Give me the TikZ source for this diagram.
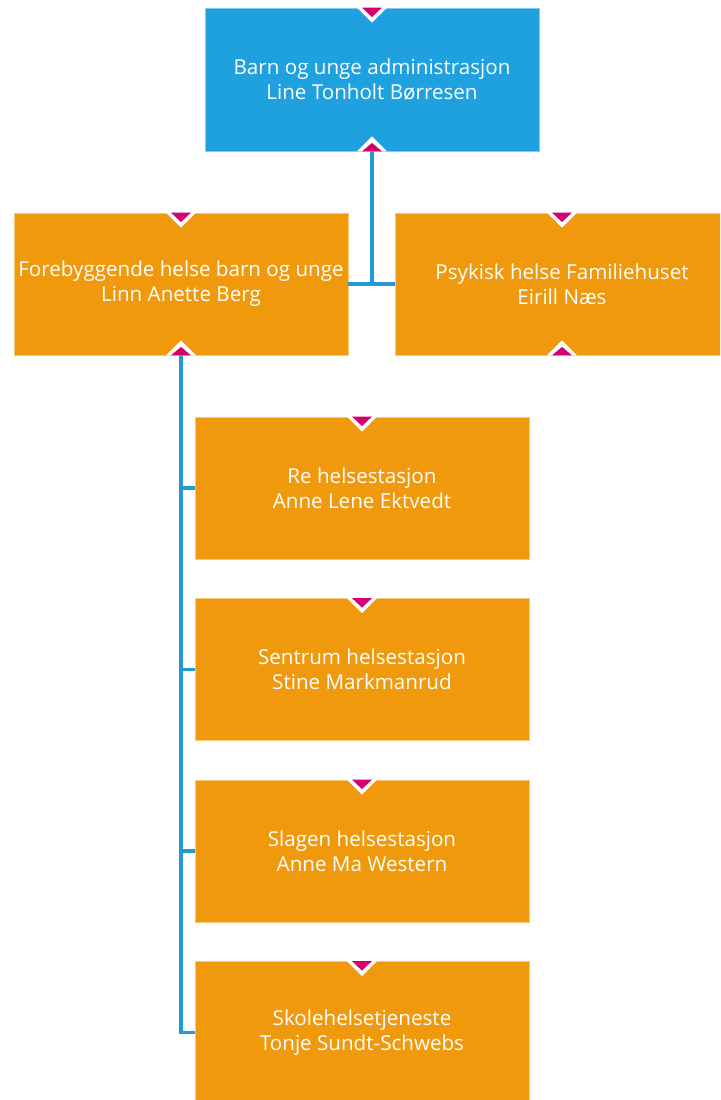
\documentclass[tikz,border=0pt]{standalone}
\usepackage{fontspec}
\setmainfont{Open Sans}
\definecolor{boxblue}{HTML}{1FA1E0}
\definecolor{boxorange}{HTML}{F0990D}
\definecolor{linkblue}{HTML}{1F9AD6}
\definecolor{notchmag}{HTML}{D5006D}
\tikzset{
  unit/.style={minimum width=334pt, minimum height=142pt, inner sep=0pt,
    align=center, text=white, font=\fontsize{20.6}{25}\selectfont},
  bluebox/.style={unit, fill=boxblue, draw=boxblue!55!white, line width=0.8pt},
  orangebox/.style={unit, fill=boxorange, draw=boxorange!55!white, line width=0.8pt},
  link/.style={draw=linkblue, line width=3.8pt},
  notchdown/.pic={
    \fill[white] (-15,0) -- (15,0) -- (0,15) -- cycle;
    \fill[notchmag] (-10,0) -- (10,0) -- (0,9.5) -- cycle;
  },
  notchup/.pic={
    \fill[white] (-15,0) -- (15,0) -- (0,-15) -- cycle;
    \fill[notchmag] (-10,0) -- (10,0) -- (0,-8.5) -- cycle;
  }
}
\begin{document}
\begin{tikzpicture}[x=1pt,y=-1pt]
\useasboundingbox (0,0) rectangle (720,1100);
\clip (0,0) rectangle (720,1100);
\fill[white] (0,0) rectangle (720,1100);

\node[bluebox, minimum height=143pt] (top) at (372,79.5) {Barn og unge administrasjon\\Line Tonholt Børresen};
\node[orangebox] (fore) at (181,284) {Forebyggende helse barn og unge\\Linn Anette Berg};
\node[orangebox] (psyk) at (562,284) {Psykisk helse Familiehuset\\Eirill Næs};
\node[orangebox] (re) at (362,488) {Re helsestasjon\\Anne Lene Ektvedt};
\node[orangebox] (sentrum) at (362,669.5) {Sentrum helsestasjon\\Stine Markmanrud};
\node[orangebox] (slagen) at (362,851) {Slagen helsestasjon\\Anne Ma Western};
\node[orangebox] (skole) at (362,1032.5) {Skolehelsetjeneste\\Tonje Sundt-Schwebs};

% connectors
\draw[link] (top.south) -- (top.south |- fore.east);
\draw[link] (fore.east) -- (psyk.west);
\draw[link] (fore.south) -- (fore.south |- skole.west) -- (skole.west);
\draw[link] (fore.south |- re.west) -- (re.west);
\draw[link] (fore.south |- sentrum.west) -- (sentrum.west);
\draw[link] (fore.south |- slagen.west) -- (slagen.west);

% notches
\pic at (top.north) {notchdown};
\pic at (top.south) {notchup};
\pic at (fore.north) {notchdown};
\pic at (fore.south) {notchup};
\pic at (psyk.north) {notchdown};
\pic at (psyk.south) {notchup};
\pic at (re.north) {notchdown};
\pic at (sentrum.north) {notchdown};
\pic at (slagen.north) {notchdown};
\pic at (skole.north) {notchdown};
\end{tikzpicture}
\end{document}
